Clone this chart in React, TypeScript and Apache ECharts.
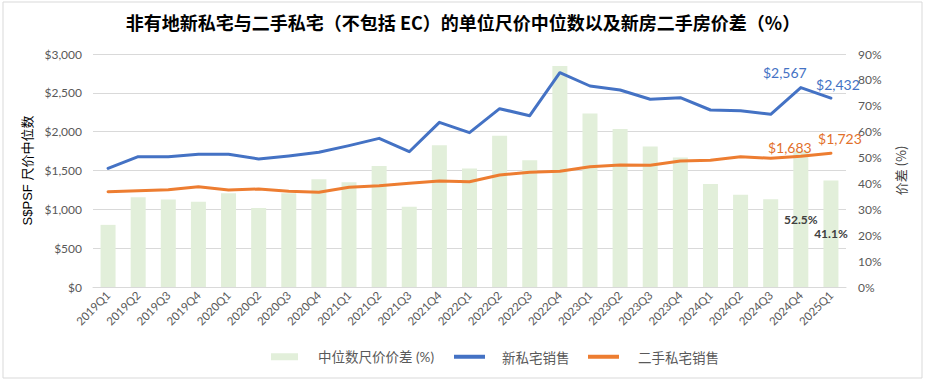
import React, { useEffect, useRef } from 'react';
import * as echarts from 'echarts';

const categories = [
  '2019Q1', '2019Q2', '2019Q3', '2019Q4',
  '2020Q1', '2020Q2', '2020Q3', '2020Q4',
  '2021Q1', '2021Q2', '2021Q3', '2021Q4',
  '2022Q1', '2022Q2', '2022Q3', '2022Q4',
  '2023Q1', '2023Q2', '2023Q3', '2023Q4',
  '2024Q1', '2024Q2', '2024Q3', '2024Q4',
  '2025Q1',
];

// 中位数尺价价差 (%)
const priceGap = [
  24.0, 34.7, 33.8, 32.9,
  36.2, 30.5, 36.2, 41.6,
  40.5, 46.7, 31.0, 54.8,
  45.8, 58.4, 49.0, 85.4,
  67.0, 61.0, 54.3, 50.0,
  39.8, 35.6, 33.9, 52.5,
  41.1,
];

// 新私宅销售 (S$PSF)
const newSale = [
  1528, 1678, 1678, 1708,
  1708, 1648, 1687, 1734,
  1820, 1914, 1742, 2120,
  1987, 2296, 2206, 2759,
  2588, 2537, 2417, 2437,
  2279, 2270, 2223, 2567,
  2432,
];

// 二手私宅销售 (S$PSF)
const resale = [
  1227, 1240, 1253, 1292,
  1249, 1262, 1232, 1219,
  1284, 1304, 1335, 1365,
  1356, 1442, 1477, 1490,
  1549, 1571, 1567, 1622,
  1631, 1678, 1657, 1683,
  1723,
];

const leftTicks = [0, 500, 1000, 1500, 2000, 2500, 3000];
const rightTicks = [0, 10, 20, 30, 40, 50, 60, 70, 80, 90];

const BAR_NAME = '中位数尺价价差 (%)';
const NEW_NAME = '新私宅销售';
const RESALE_NAME = '二手私宅销售';

const BLUE = '#4472C4';
const ORANGE = '#ED7D31';
const GREEN = '#E2EFDA';
const GREY_TEXT = '#595959';
const FONT = 'Lato, "Noto Sans CJK SC", sans-serif';
const CJK = '"Noto Sans CJK SC", sans-serif';

const fmtMoney = (v: number) => '$' + v.toLocaleString('en-US');

export default function App() {
  const ref = useRef<HTMLDivElement>(null);

  useEffect(() => {
    const chart = echarts.init(ref.current!, null, { renderer: 'svg' });

    const newOffsets: Record<number, number[]> = { 23: [-16, -3], 24: [7, -1] };
    const resaleOffsets: Record<number, number[]> = { 23: [-11, 4], 24: [9, -2] };

    const lineData = (vals: number[], offsets: Record<number, number[]>, color: string) =>
      vals.map((v, i) =>
        offsets[i]
          ? {
              value: v,
              label: {
                show: true,
                position: 'top',
                offset: offsets[i],
                formatter: (p: any) => fmtMoney(p.value),
                color,
                fontSize: 14,
                fontFamily: FONT,
              },
            }
          : v
      );

    const barData = priceGap.map((v, i) =>
      i >= priceGap.length - 2
        ? {
            value: v,
            label: {
              show: true,
              position: 'inside',
              formatter: (p: any) => p.value.toFixed(1) + '%',
              color: '#404040',
              fontWeight: 'bold',
              fontSize: 12,
              fontFamily: FONT,
            },
          }
        : v
    );

    chart.setOption({
      animation: false,
      backgroundColor: '#ffffff',
      title: {
        text: '非有地新私宅与二手私宅（不包括 EC）的单位尺价中位数以及新房二手房价差（%）',
        left: 'center',
        top: 13,
        padding: 0,
        textStyle: {
          fontSize: 18,
          fontWeight: 'bold',
          color: '#000000',
          fontFamily: CJK,
        },
      },
      graphic: [
        {
          type: 'rect',
          shape: { x: 3, y: 2, width: 919, height: 376 },
          style: { fill: 'none', stroke: '#d9d9d9', lineWidth: 1 },
          silent: true,
          z: -10,
        },
      ],
      legend: [
        {
          data: [{ name: BAR_NAME, icon: 'rect' }],
          left: 271,
          top: 350,
          padding: 0,
          itemWidth: 27,
          itemHeight: 7,
          textStyle: { fontSize: 13.5, color: GREY_TEXT, fontFamily: FONT, padding: [0, 0, 0, 15] },
        },
        {
          data: [{ name: NEW_NAME, icon: 'rect' }],
          left: 454,
          top: 350,
          padding: 0,
          itemWidth: 31,
          itemHeight: 4,
          textStyle: { fontSize: 13.5, color: GREY_TEXT, fontFamily: CJK, padding: [0, 0, 0, 12] },
        },
        {
          data: [{ name: RESALE_NAME, icon: 'rect' }],
          left: 588,
          top: 350,
          padding: 0,
          itemWidth: 31,
          itemHeight: 4,
          textStyle: { fontSize: 13.5, color: GREY_TEXT, fontFamily: CJK, padding: [0, 0, 0, 14] },
        },
      ],
      grid: { left: 93, right: 80, top: 54, bottom: 95 },
      xAxis: {
        type: 'category',
        data: categories,
        axisTick: { show: false },
        axisLine: { lineStyle: { color: '#d9d9d9' } },
        axisLabel: {
          rotate: 45,
          color: GREY_TEXT,
          fontSize: 11.5,
          fontFamily: FONT,
          margin: 6,
          interval: 0,
        },
      },
      yAxis: [
        {
          type: 'value',
          min: leftTicks[0],
          max: leftTicks[leftTicks.length - 1],
          interval: leftTicks[1] - leftTicks[0],
          name: 'S$PSF 尺价中位数',
          nameLocation: 'middle',
          nameRotate: 90,
          nameGap: 58,
          nameTextStyle: { fontSize: 13, color: '#000000', fontFamily: 'Liberation Sans, "Noto Sans CJK SC", sans-serif' },
          axisLine: { show: false },
          axisTick: { show: false },
          axisLabel: {
            formatter: (v: number) => fmtMoney(v),
            color: GREY_TEXT,
            fontSize: 12,
            fontFamily: FONT,
            margin: 11,
          },
          splitLine: { lineStyle: { color: '#d9d9d9', width: 1 } },
        },
        {
          type: 'value',
          min: rightTicks[0],
          max: rightTicks[rightTicks.length - 1],
          interval: rightTicks[1] - rightTicks[0],
          position: 'right',
          name: '价差 (%)',
          nameLocation: 'middle',
          nameRotate: 90,
          nameGap: 48,
          nameTextStyle: { fontSize: 13, color: '#404040', fontFamily: CJK },
          axisLine: { show: false },
          axisTick: { show: false },
          axisLabel: {
            formatter: '{value}%',
            color: GREY_TEXT,
            fontSize: 12,
            fontFamily: FONT,
            margin: 12,
          },
          splitLine: { show: false },
        },
      ],
      series: [
        {
          name: BAR_NAME,
          type: 'bar',
          yAxisIndex: 1,
          data: barData,
          barWidth: 15,
          itemStyle: { color: GREEN },
          z: 1,
        },
        {
          name: NEW_NAME,
          type: 'line',
          yAxisIndex: 0,
          data: lineData(newSale, newOffsets, BLUE),
          symbol: 'circle',
          symbolSize: 1,
          itemStyle: { color: BLUE },
          lineStyle: { color: BLUE, width: 3, cap: 'round', join: 'round' },
          z: 3,
        },
        {
          name: RESALE_NAME,
          type: 'line',
          yAxisIndex: 0,
          data: lineData(resale, resaleOffsets, '#E2702A'),
          symbol: 'circle',
          symbolSize: 1,
          itemStyle: { color: ORANGE },
          lineStyle: { color: ORANGE, width: 3, cap: 'round', join: 'round' },
          z: 3,
        },
      ],
    });

    return () => chart.dispose();
  }, []);

  return (
    <div
      ref={ref}
      style={{ position: 'fixed', left: 0, top: 0, width: 926, height: 382, background: '#ffffff' }}
    />
  );
}
